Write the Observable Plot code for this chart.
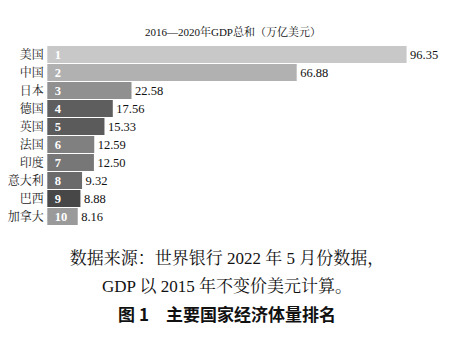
<!DOCTYPE html>
<html>
<head>
<meta charset="utf-8">
<script src="https://cdn.jsdelivr.net/npm/d3@7"></script>
<script src="https://cdn.jsdelivr.net/npm/@observablehq/plot@0.6"></script>
<style>
  body { margin: 0; background: #fff; }
  #wrap { position: relative; width: 454px; height: 357px; font-family: "Liberation Serif", "Noto Serif CJK SC", "Noto Sans CJK SC", serif; color: #111; }
  #title { position: absolute; top: 24px; left: 0; width: 454px; padding-left: 12px; box-sizing: border-box; text-align: center; font-size: 11px; line-height: 16px; }
  #chart { position: absolute; top: 42px; left: 0; }
  #chart svg text { font-family: "Liberation Serif", "Noto Serif CJK SC", "Noto Sans CJK SC", serif; }
  .cap { position: absolute; left: 0; width: 454px; text-align: center; font-size: 17px; line-height: 22px; }
  #c1 { top: 248px; }
  #c2 { top: 276px; }
  #c3 { top: 303px; font-weight: bold; font-family: "Noto Sans CJK SC", sans-serif; font-size: 17px; }
</style>
</head>
<body>
<div id="wrap">
  <div id="title"></div>
  <div id="chart"></div>
  <div class="cap" id="c1"></div>
  <div class="cap" id="c2"></div>
  <div class="cap" id="c3"></div>
</div>
<script>
const titleText = "2016—2020年GDP总和（万亿美元）";
const captionLines = ["数据来源：世界银行 2022 年 5 月份数据，", "GDP 以 2015 年不变价美元计算。", "图 1　主要国家经济体量排名"];
const countries = ["美国", "中国", "日本", "德国", "英国", "法国", "印度", "意大利", "巴西", "加拿大"];
const gdp = [96.35, 66.88, 22.58, 17.56, 15.33, 12.59, 12.50, 9.32, 8.88, 8.16];
const ranks = ["1", "2", "3", "4", "5", "6", "7", "8", "9", "10"];
const barColors = ["#c8c8c8", "#b1b1b1", "#909090", "#5e5e5e", "#5b5b5b", "#808080", "#777777", "#6b6b6b", "#474747", "#9a9a9a"];

document.getElementById("title").textContent = titleText;
document.getElementById("c1").textContent = captionLines[0];
document.getElementById("c2").textContent = captionLines[1];
document.getElementById("c3").textContent = captionLines[2];

const data = countries.map((c, i) => ({country: c, value: gdp[i], rank: ranks[i], color: barColors[i]}));
const serif = "'Liberation Serif', 'Noto Serif CJK SC', 'Noto Sans CJK SC', serif";

const chart = Plot.plot({
  width: 454,
  height: 188,
  margin: 0,
  style: {fontFamily: serif, background: "transparent"},
  x: {domain: [0, 96.35], range: [47.3, 406.6], axis: null},
  y: {domain: countries, range: [0, 188], padding: 0.04, axis: null},
  marks: [
    Plot.barX(data, {x: "value", y: "country", fill: "color"}),
    Plot.text(data, {x: 0, y: "country", text: "country", textAnchor: "end", dx: -4, fontSize: 12, fill: "#222", fontFamily: serif}),
    Plot.text(data, {x: 0, y: "country", text: "rank", textAnchor: "start", dx: 7, fontSize: 12.5, fontWeight: "bold", fill: "#fff", fontFamily: serif}),
    Plot.text(data, {x: "value", y: "country", text: d => d3.format(".2f")(d.value), textAnchor: "start", dx: 3, fontSize: 12.5, fill: "#111", fontFamily: serif})
  ]
});
document.getElementById("chart").appendChild(chart);
</script>
</body>
</html>
